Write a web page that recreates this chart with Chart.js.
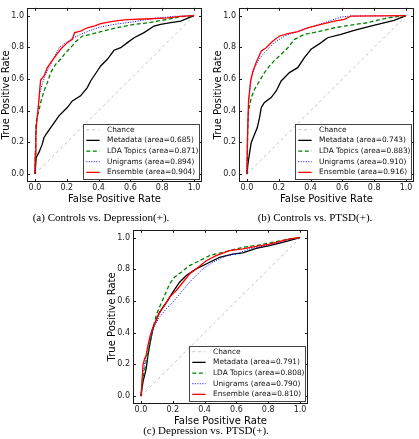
<!DOCTYPE html>
<html><head><meta charset="utf-8">
<script src="https://cdn.jsdelivr.net/npm/chart.js@4"></script>
<style>
html,body{margin:0;padding:0;background:#fff;width:419px;height:439px;overflow:hidden;position:relative}
canvas{position:absolute}
.cap{position:absolute;font-family:"Liberation Serif","Times New Roman",serif;font-size:11px;line-height:13px;white-space:nowrap;transform:translateX(-50%);color:#000}
</style></head><body>
<canvas id="cA" width="206" height="206" style="left:0px;top:0px"></canvas>
<canvas id="cB" width="206" height="206" style="left:212px;top:0px"></canvas>
<canvas id="cC" width="206" height="206" style="left:106px;top:222px"></canvas>
<div class="cap" style="left:101px;top:210.5px">(a) Controls vs. Depression(+).</div>
<div class="cap" style="left:315px;top:210.5px">(b) Controls vs. PTSD(+).</div>
<div class="cap" style="left:206px;top:424px">(c) Depression vs. PTSD(+).</div>
<script>
const xTicks = [0, 0.2, 0.4, 0.6, 0.8, 1.0];
const yTicks = [0, 0.2, 0.4, 0.6, 0.8, 1.0];
const seriesNames = ['Chance', 'Metadata', 'LDA Topics', 'Unigrams', 'Ensemble'];
const areasA = [0.685, 0.871, 0.894, 0.904];
const areasB = [0.743, 0.883, 0.910, 0.916];
const areasC = [0.791, 0.808, 0.790, 0.810];
const chanceFpr = [0, 1];
const chanceTpr = [0, 1];

// (a) Controls vs. Depression(+)
const metaA_fpr = [0,0.008,0.025,0.046,0.057,0.078,0.099,0.151,0.203,0.235,0.287,0.329,0.35,0.392,0.413,0.455,0.497,0.539,0.581,0.623,0.686,0.748,0.79,0.853,0.916,0.958,1];
const metaA_tpr = [0,0.105,0.137,0.189,0.231,0.263,0.294,0.368,0.42,0.462,0.494,0.546,0.588,0.651,0.683,0.725,0.782,0.798,0.83,0.861,0.893,0.935,0.945,0.956,0.966,0.983,1];
const ldaA_fpr = [0,0.004,0.006,0.015,0.025,0.036,0.057,0.078,0.099,0.13,0.161,0.193,0.224,0.256,0.298,0.35,0.413,0.497,0.623,0.727,0.832,0.916,1];
const ldaA_tpr = [0,0.168,0.315,0.368,0.40,0.452,0.525,0.578,0.641,0.693,0.725,0.767,0.798,0.836,0.872,0.882,0.899,0.92,0.945,0.958,0.977,0.994,1];
const uniA_fpr = [0,0.004,0.008,0.019,0.031,0.046,0.063,0.088,0.12,0.151,0.193,0.235,0.287,0.35,0.413,0.497,0.623,0.748,0.874,1];
const uniA_tpr = [0,0.21,0.315,0.42,0.515,0.567,0.62,0.672,0.735,0.798,0.83,0.857,0.882,0.908,0.929,0.945,0.962,0.983,0.996,1];
const ensA_fpr = [0,0.002,0.006,0.01,0.021,0.031,0.036,0.057,0.078,0.099,0.13,0.161,0.203,0.235,0.249,0.287,0.329,0.371,0.413,0.497,0.581,0.727,0.832,0.916,1];
const ensA_tpr = [0,0.126,0.252,0.315,0.42,0.546,0.595,0.62,0.672,0.704,0.746,0.788,0.83,0.851,0.893,0.903,0.924,0.935,0.95,0.966,0.975,0.981,0.987,0.996,1];

// (b) Controls vs. PTSD(+)
const metaB_fpr = [0,0.006,0.017,0.027,0.048,0.065,0.079,0.09,0.11,0.152,0.184,0.215,0.267,0.319,0.361,0.403,0.466,0.507,0.591,0.674,0.758,0.841,0.925,1];
const metaB_tpr = [0,0.063,0.137,0.20,0.252,0.294,0.357,0.42,0.452,0.483,0.525,0.588,0.641,0.672,0.735,0.788,0.83,0.861,0.882,0.908,0.929,0.95,0.971,1];
const ldaB_fpr = [0,0.004,0.01,0.027,0.048,0.079,0.11,0.142,0.173,0.215,0.257,0.299,0.361,0.445,0.549,0.653,0.758,0.841,0.925,1];
const ldaB_tpr = [0,0.252,0.399,0.483,0.536,0.588,0.641,0.683,0.718,0.756,0.798,0.851,0.882,0.899,0.924,0.941,0.956,0.977,0.992,1];
const uniB_fpr = [0,0.004,0.013,0.027,0.048,0.069,0.10,0.132,0.173,0.236,0.319,0.403,0.486,0.591,0.653,1];
const uniB_tpr = [0,0.294,0.483,0.609,0.672,0.714,0.756,0.788,0.83,0.872,0.899,0.929,0.956,0.992,0.998,1];
const ensB_fpr = [0,0.004,0.01,0.023,0.038,0.058,0.09,0.121,0.163,0.205,0.257,0.319,0.382,0.466,0.549,0.612,0.653,1];
const ensB_tpr = [0,0.252,0.462,0.588,0.651,0.704,0.777,0.798,0.84,0.872,0.887,0.899,0.924,0.945,0.966,0.977,0.998,1];

// (c) Depression vs. PTSD(+)
const metaC_fpr = [0,0.0126,0.023,0.033,0.044,0.059,0.075,0.107,0.138,0.169,0.2,0.243,0.285,0.347,0.41,0.494,0.577,0.64,0.724,0.808,0.891,1];
const metaC_tpr = [0,0.09,0.132,0.174,0.258,0.342,0.426,0.509,0.562,0.604,0.656,0.719,0.761,0.803,0.834,0.876,0.897,0.904,0.933,0.95,0.971,1];
const ldaC_fpr = [0,0.0126,0.033,0.054,0.075,0.096,0.117,0.149,0.18,0.211,0.253,0.305,0.368,0.431,0.515,0.64,0.745,0.849,0.933,1];
const ldaC_tpr = [0,0.111,0.216,0.321,0.426,0.509,0.562,0.635,0.709,0.75,0.782,0.824,0.855,0.887,0.908,0.939,0.954,0.975,0.992,1];
const uniC_fpr = [0,0.008,0.021,0.038,0.059,0.086,0.117,0.159,0.2,0.253,0.305,0.347,0.389,0.452,0.536,0.598,0.682,0.766,0.849,0.933,1];
const uniC_tpr = [0,0.111,0.195,0.279,0.363,0.447,0.499,0.551,0.593,0.656,0.719,0.761,0.803,0.845,0.887,0.897,0.929,0.946,0.966,0.992,1];
const ensC_fpr = [0,0.004,0.0126,0.023,0.033,0.044,0.059,0.075,0.096,0.117,0.149,0.18,0.222,0.264,0.305,0.347,0.41,0.473,0.556,0.64,0.724,0.808,0.891,0.954,1];
const ensC_tpr = [0,0.048,0.195,0.237,0.258,0.321,0.384,0.436,0.478,0.53,0.572,0.625,0.667,0.719,0.771,0.803,0.855,0.887,0.918,0.929,0.946,0.96,0.981,0.996,1];

const styles = [
  {color:'#b3b3b3', width:0.8, dash:[3,3]},
  {color:'#000000', width:1.3, dash:[]},
  {color:'#008000', width:1.3, dash:[4,2.5]},
  {color:'#0000ff', width:1.0, dash:[1,1.5]},
  {color:'#ff0000', width:1.3, dash:[]}
];

function pts(fx, fy){ return fx.map((v,i)=>({x:v, y:fy[i]})); }

const frameLegend = {
  id: 'frameLegend',
  afterDraw(chart){
    const ctx = chart.ctx, a = chart.chartArea;
    const xs = chart.scales.x, ys = chart.scales.y;
    ctx.save();
    ctx.strokeStyle = '#1a1a1a'; ctx.lineWidth = 1; ctx.setLineDash([]);
    ctx.strokeRect(Math.round(a.left)+0.5, Math.round(a.top)+0.5, Math.round(a.right-a.left)-1, Math.round(a.bottom-a.top)-1);
    ctx.beginPath();
    const tl = 3;
    xs.ticks.forEach(t=>{ const p = Math.round(xs.getPixelForValue(t.value))+0.5;
      ctx.moveTo(p, a.bottom); ctx.lineTo(p, a.bottom-tl); ctx.moveTo(p, a.top); ctx.lineTo(p, a.top+tl); });
    ys.ticks.forEach(t=>{ const p = Math.round(ys.getPixelForValue(t.value))+0.5;
      ctx.moveTo(a.left, p); ctx.lineTo(a.left+tl, p); ctx.moveTo(a.right, p); ctx.lineTo(a.right-tl, p); });
    ctx.stroke();
    // legend
    const w = 116, h = 54.5;
    const x0 = a.right - 3 - w, y0 = a.bottom - 3.5 - h;
    ctx.fillStyle = '#fff'; ctx.fillRect(x0, y0, w, h);
    ctx.strokeStyle = '#444'; ctx.lineWidth = 1;
    ctx.strokeRect(Math.round(x0)+0.5, Math.round(y0)+0.5, Math.round(w), Math.round(h));
    ctx.font = '7.4px "DejaVu Sans"'; ctx.textBaseline = 'middle'; ctx.textAlign = 'left';
    chart.data.datasets.forEach((ds, i)=>{
      const y = y0 + 5.7 + i*10.67;
      ctx.strokeStyle = ds.borderColor; ctx.lineWidth = ds.borderWidth; ctx.setLineDash(ds.borderDash);
      ctx.beginPath(); ctx.moveTo(x0+3.3, y); ctx.lineTo(x0+16.6, y); ctx.stroke();
      ctx.setLineDash([]);
      ctx.fillStyle = '#111'; ctx.fillText(ds.label, x0+24, y);
    });
    ctx.restore();
  }
};

function makeChart(id, curves, areas){
  const all = [[chanceFpr, chanceTpr]].concat(curves);
  const datasets = all.map((c, i)=>({
    label: i === 0 ? seriesNames[0] : seriesNames[i] + ' (area=' + areas[i-1].toFixed(3) + ')',
    data: pts(c[0], c[1]),
    borderColor: styles[i].color, borderWidth: styles[i].width, borderDash: styles[i].dash,
    pointRadius: 0, fill: false, tension: 0, showLine: true, order: 4 - i
  }));
  const tickFont = {family:'DejaVu Sans', size:8};
  const titleFont = {family:'DejaVu Sans', size:10};
  new Chart(document.getElementById(id), {
    type: 'scatter',
    data: {datasets},
    options: {
      responsive: false, animation: false, devicePixelRatio: 1,
      layout: {padding: {top:7, right:4, left:0, bottom:0}},
      plugins: {legend:{display:false}, tooltip:{enabled:false}},
      scales: {
        x: {type:'linear', min:-0.05, max:1.05,
            afterBuildTicks: s => { s.ticks = xTicks.map(v=>({value:v})); },
            afterFit: s => { s.height = 24; },
            ticks: {callback: v => v.toFixed(1), font: tickFont, color:'#222', padding:1, maxRotation:0, autoSkip:false},
            grid: {display:false, drawTicks:false}, border:{display:false},
            title: {display:true, text:'False Positive Rate', font:titleFont, color:'#000', padding:{top:0, bottom:0.5}}},
        y: {type:'linear', min:-0.05, max:1.05,
            afterBuildTicks: s => { s.ticks = yTicks.map(v=>({value:v})); },
            afterFit: s => { s.width = 27; },
            ticks: {callback: v => v.toFixed(1), font: tickFont, color:'#222', padding:3, autoSkip:false},
            grid: {display:false, drawTicks:false}, border:{display:false},
            title: {display:true, text:'True Positive Rate', font:titleFont, color:'#000', padding:{top:0, bottom:0}}}
      }
    },
    plugins: [frameLegend]
  });
}

makeChart('cA', [[metaA_fpr, metaA_tpr], [ldaA_fpr, ldaA_tpr], [uniA_fpr, uniA_tpr], [ensA_fpr, ensA_tpr]], areasA);
makeChart('cB', [[metaB_fpr, metaB_tpr], [ldaB_fpr, ldaB_tpr], [uniB_fpr, uniB_tpr], [ensB_fpr, ensB_tpr]], areasB);
makeChart('cC', [[metaC_fpr, metaC_tpr], [ldaC_fpr, ldaC_tpr], [uniC_fpr, uniC_tpr], [ensC_fpr, ensC_tpr]], areasC);
</script>
</body></html>
